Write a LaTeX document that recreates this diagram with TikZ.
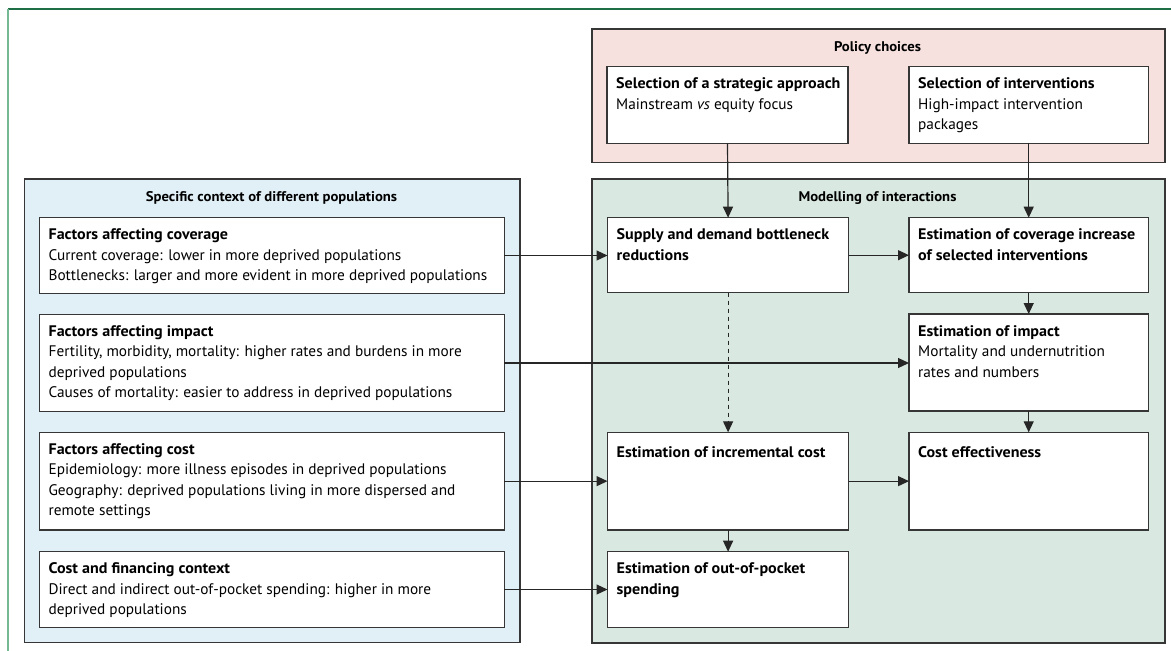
\documentclass[tikz,border=0pt]{standalone}
\usepackage{fontspec}
\setmainfont{PT Sans}[BoldFeatures={FakeStretch=1.05}]
\usetikzlibrary{arrows.meta,calc}
\definecolor{pinkfill}{HTML}{F6E1DF}
\definecolor{bluefill}{HTML}{E0F0F6}
\definecolor{greenfill}{HTML}{D9E8E0}
\definecolor{framedark}{HTML}{1E6E46}
\definecolor{framelight}{HTML}{74B894}
\definecolor{edgegray}{HTML}{363636}
\tikzset{
  panel/.style={draw=edgegray, line width=1.6pt},
  box/.style={draw=edgegray, fill=white, line width=1.2pt, inner sep=0pt, outer sep=0pt, anchor=north west},
  txt/.style={anchor=north west, inner sep=0pt, align=left, font=\fontsize{15.3}{20.5}\selectfont, execute at begin node=\strut},
  ttl/.style={inner sep=0pt, font=\fontsize{14}{20.5}\selectfont\bfseries},
  arr/.style={draw=black!85, line width=1.2pt, -{Triangle[length=11pt,width=10pt]}},
  dasharr/.style={arr, dash pattern=on 4pt off 4pt}
}
\newcommand{\bx}[6]{%
  \node[box, minimum width={#4-#2}, minimum height={#5-#3}] (#1) at (#2,#3) {};
  \node[txt] (#1-t) at ([shift={(9pt,-11pt)}]#1.north west) {#6};
}
\begin{document}
\begin{tikzpicture}[x=1pt,y=-1pt]
\useasboundingbox (0,0) rectangle (1171,651);
% outer frame
\draw[framedark, line width=1.3pt] (8,9) -- (1171,9);
\draw[framelight, line width=2.2pt] (8,9) -- (8,651);
% panels
\node[panel, fill=pinkfill, anchor=north west, inner sep=0pt, minimum width=573, minimum height=133.4] (policy) at (591,28.3) {};
\node[panel, fill=bluefill, anchor=north west, inner sep=0pt, minimum width=495.6, minimum height=463.4] (context) at (23.7,178.3) {};
\node[panel, fill=greenfill, anchor=north west, inner sep=0pt, minimum width=573, minimum height=463.7] (model) at (591,178.3) {};
\node[ttl] (policy-t) at (877.5,48) {Policy choices};
\node[ttl] (context-t) at (271.5,198) {Specific context of different populations};
\node[ttl] (model-t) at (877.5,198) {Modelling of interactions};
% boxes
\bx{strat}{607}{66.7}{848}{143.3}{\textbf{Selection of a strategic approach}\\Mainstream \textit{vs} equity focus}
\bx{interv}{909}{66.7}{1148.4}{143.3}{\textbf{Selection of interventions}\\High-impact intervention\\packages}
\bx{fcov}{39.4}{217.7}{504.4}{293.3}{\textbf{Factors affecting coverage}\\Current coverage: lower in more deprived populations\\Bottlenecks: larger and more evident in more deprived populations}
\bx{fimp}{39.4}{314.3}{504.4}{411.7}{\textbf{Factors affecting impact}\\Fertility, morbidity, mortality: higher rates and burdens in more\\deprived populations\\Causes of mortality: easier to address in deprived populations}
\bx{fcost}{39.4}{432.3}{504.4}{530}{\textbf{Factors affecting cost}\\Epidemiology: more illness episodes in deprived populations\\Geography: deprived populations living in more dispersed and\\remote settings}
\bx{ffin}{39.4}{551.7}{504.4}{627.3}{\textbf{Cost and financing context}\\Direct and indirect out-of-pocket spending: higher in more\\deprived populations}
\bx{supply}{607.5}{217.7}{848.7}{292.7}{\textbf{Supply and demand bottleneck}\\\textbf{reductions}}
\bx{covinc}{909}{217.7}{1148.4}{292.7}{\textbf{Estimation of coverage increase}\\\textbf{of selected interventions}}
\bx{eimp}{909}{314}{1148.4}{411}{\textbf{Estimation of impact}\\Mortality and undernutrition\\rates and numbers}
\bx{incr}{607.5}{432.3}{848.7}{530}{\textbf{Estimation of incremental cost}}
\bx{costeff}{909}{432.3}{1148.4}{530}{\textbf{Cost effectiveness}}
\bx{oop}{607.5}{551.7}{848.7}{627.3}{\textbf{Estimation of out-of-pocket}\\\textbf{spending}}
% connectors
\draw[arr] (strat.south) -- (supply.north);
\draw[arr] (interv.south) -- (covinc.north);
\draw[arr] (fcov.east) -- (fcov.east -| supply.west);
\draw[arr] (supply.east) -- (supply.east -| covinc.west);
\draw[arr] (covinc.south) -- (eimp.north);
\draw[arr] (fimp.east) -- (fimp.east -| eimp.west);
\draw[arr] (eimp.south) -- (costeff.north);
\draw[dasharr] (supply.south) -- (incr.north);
\draw[arr] (fcost.east) -- (fcost.east -| incr.west);
\draw[arr] (incr.east) -- (incr.east -| costeff.west);
\draw[arr] (incr.south) -- (oop.north);
\draw[arr] (ffin.east) -- (ffin.east -| oop.west);
\end{tikzpicture}
\end{document}
